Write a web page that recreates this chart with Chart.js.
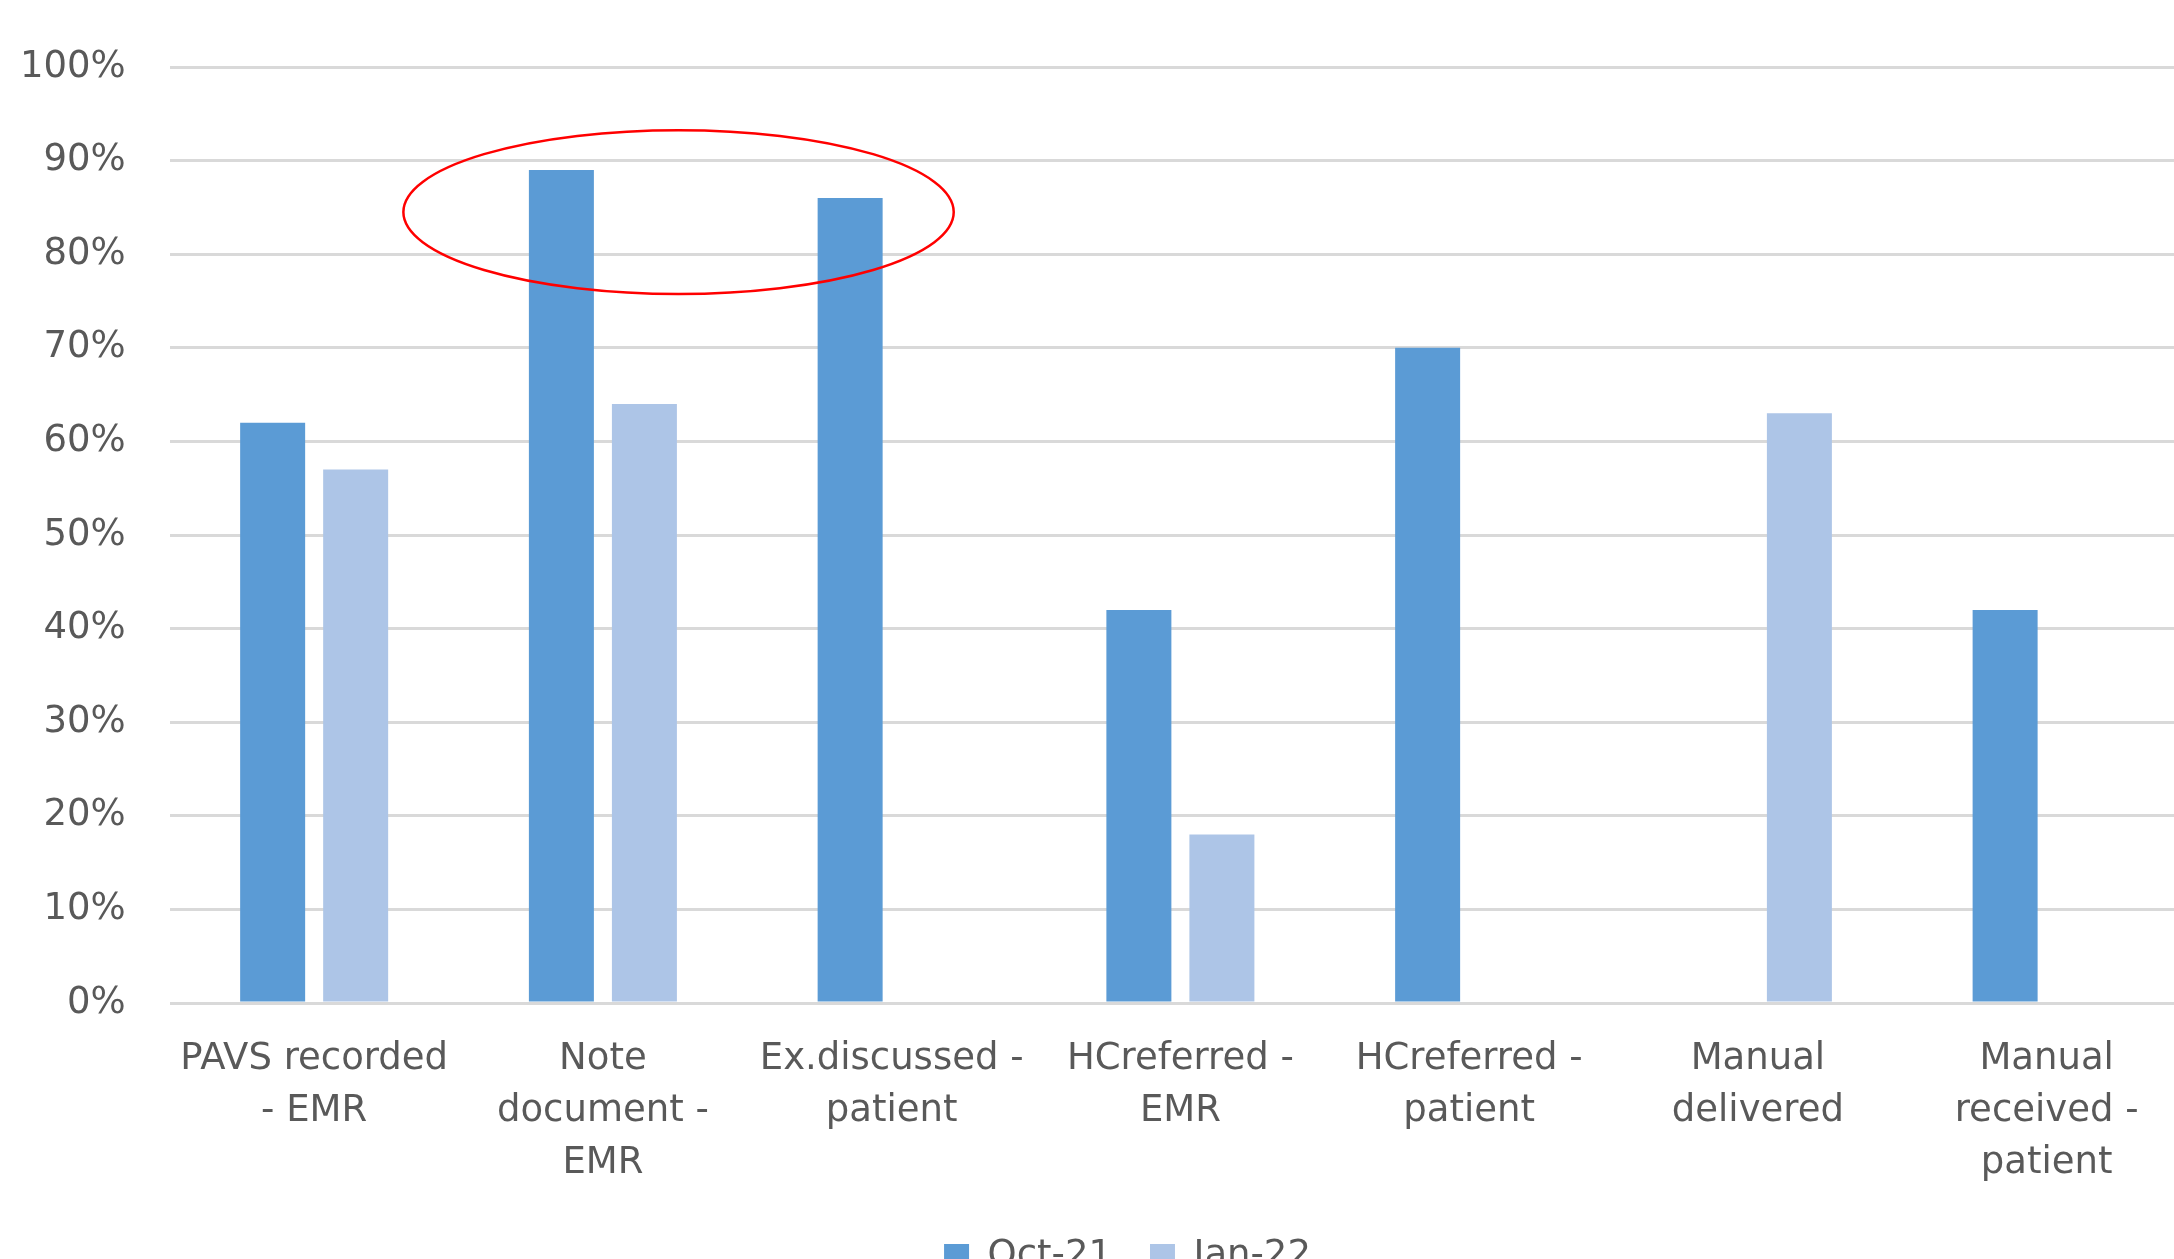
<!DOCTYPE html>
<html>
<head>
<meta charset="utf-8">
<title>PAVS indicators</title>
<script src="https://cdn.jsdelivr.net/npm/chart.js@4/dist/chart.umd.min.js"></script>
<style>
  html, body { margin: 0; padding: 0; background: #ffffff; overflow: hidden; }
  #wrap { width: 2235px; height: 1285px; }
  canvas { display: block; }
</style>
</head>
<body>
<div id="wrap"><canvas id="chart" width="2235" height="1285"></canvas></div>
<script>
// Indicator categories (wrapped labels, one string per line)
const categories = [
  ["PAVS recorded", "- EMR"],
  ["Note", "document -", "EMR"],
  ["Ex.discussed -", "patient"],
  ["HCreferred -", "EMR"],
  ["HCreferred -", "patient"],
  ["Manual", "delivered"],
  ["Manual", "received -", "patient"]
];

// Series names
const seriesNames = ["Oct-21", "Jan-22"];

// Percent of charts meeting each indicator
const oct21 = [62, 89, 86, 42, 70, null, 42];
const jan22 = [57, 64, null, 18, null, 63, null];

// Y axis tick values (percent)
const yTickValues = [0, 10, 20, 30, 40, 50, 60, 70, 80, 90, 100];

const TEXT = '#595959';
const FONT = 'DejaVu Sans';
const Y_LABEL_GAP = 44;

// Red ring drawn around the two highest Oct-21 results
const highlightRing = {
  id: 'highlightRing',
  afterDatasetsDraw(chart, args, opts) {
    const xs = chart.scales.x, ys = chart.scales.y;
    const cx = xs.getPixelForValue(opts.center);
    const rx = xs.getPixelForValue(opts.center + opts.halfWidth) - cx;
    const cy = ys.getPixelForValue(opts.value);
    const ry = ys.getPixelForValue(opts.value - opts.halfHeight) - cy;
    const ctx = chart.ctx;
    ctx.save();
    ctx.beginPath();
    ctx.ellipse(cx, cy, rx, ry, 0, 0, Math.PI * 2);
    ctx.strokeStyle = opts.color;
    ctx.lineWidth = opts.width;
    ctx.stroke();
    ctx.restore();
  }
};

Chart.defaults.font.family = FONT;
Chart.defaults.font.size = 37;
Chart.defaults.color = TEXT;

new Chart(document.getElementById('chart'), {
  type: 'bar',
  data: {
    labels: categories,
    datasets: [
      { label: seriesNames[0], data: oct21, backgroundColor: '#5B9BD5', borderWidth: 0 },
      { label: seriesNames[1], data: jan22, backgroundColor: '#ADC5E7', borderWidth: 0 }
    ]
  },
  options: {
    responsive: false,
    devicePixelRatio: 1,
    animation: false,
    categoryPercentage: 0.575,
    barPercentage: 0.783,
    layout: { padding: { top: 67, left: 20, right: 0, bottom: 0 } },
    scales: {
      x: {
        grid: { display: false, drawTicks: false },
        border: { display: false },
        ticks: {
          padding: 30,
          maxRotation: 0,
          minRotation: 0,
          autoSkip: false,
          color: TEXT,
          font: { family: FONT, size: 37, lineHeight: 1.41 }
        },
        afterFit(scale) {
          scale.paddingLeft = 0;
          scale.paddingRight = 0;
          scale.height = 197;
        }
      },
      y: {
        min: 0,
        max: 100,
        afterBuildTicks(scale) { scale.ticks = yTickValues.map(v => ({ value: v })); },
        grid: { color: '#D9D9D9', lineWidth: 3, drawTicks: false },
        border: { display: false },
        ticks: {
          padding: Y_LABEL_GAP,
          color: TEXT,
          font: { family: FONT, size: 37 },
          callback: v => v + '%'
        },
        // keep only the gap between labels and plot, not a second one on the outer side
        afterFit(scale) { scale.width -= Y_LABEL_GAP; }
      },
      gutter: {
        position: 'right',
        display: true,
        grid: { display: false, drawTicks: false },
        border: { display: false },
        ticks: { display: false },
        afterFit(scale) { scale.width = 44; }
      }
    },
    plugins: {
      tooltip: { enabled: false },
      legend: {
        position: 'bottom',
        labels: {
          boxWidth: 25,
          boxHeight: 25,
          padding: 38,
          color: TEXT,
          font: { family: FONT, size: 37 }
        }
      },
      highlightRing: { center: 1.262, halfWidth: 0.953, value: 84.5, halfHeight: 8.75, color: '#FF0000', width: 2.5 }
    }
  },
  plugins: [highlightRing]
});
</script>
</body>
</html>
